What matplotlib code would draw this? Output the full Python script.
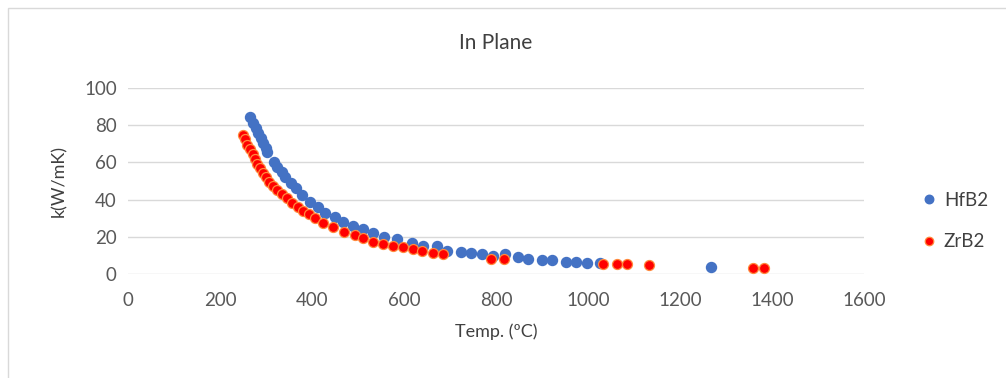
import numpy as np
import matplotlib.pyplot as plt
from matplotlib.patches import Rectangle

hfb2_t = [265, 272, 278, 283, 289, 293, 300, 302, 317, 324, 335, 341, 354, 365,
          378, 396, 413, 428, 450, 467, 489, 511, 533, 557, 585, 617, 641, 672,
          693, 724, 746, 769, 793, 820, 848, 870, 900, 922, 952, 974, 997, 1026,
          1267]
hfb2_k = [84.2, 81.2, 78.5, 75.8, 73.1, 70.4, 67.7, 65.6, 60.2, 57.5, 54.8, 52.2,
          48.9, 46.2, 42.5, 38.7, 36.0, 32.8, 30.6, 28.0, 25.8, 24.2, 22.0, 19.9,
          18.8, 16.7, 15.1, 15.1, 12.4, 11.8, 11.3, 10.8, 9.7, 10.8, 9.1, 8.1,
          7.5, 7.5, 6.5, 6.5, 5.9, 5.9, 3.8]

zrb2_t = [250, 254, 259, 265, 272, 276, 280, 287, 293, 300, 307, 315, 324, 335,
          346, 357, 370, 380, 393, 407, 424, 446, 470, 493, 511, 533, 554, 576,
          598, 620, 639, 663, 685, 789, 817, 1033, 1063, 1085, 1133, 1359, 1383]
zrb2_k = [74.7, 72.6, 69.4, 67.2, 64.5, 61.8, 59.1, 57.0, 54.3, 52.2, 49.5, 47.3,
          45.2, 43.0, 40.9, 38.2, 36.0, 33.9, 32.3, 30.1, 27.4, 25.3, 22.6, 21.0,
          19.4, 17.2, 16.1, 15.1, 14.5, 13.4, 12.4, 11.3, 10.8, 8.1, 8.1, 5.4,
          5.4, 5.4, 4.8, 3.2, 3.2]

plt.rcParams['font.family'] = ['Lato', 'DejaVu Sans']

fig = plt.figure(figsize=(10.06, 3.78), dpi=100)
ax = fig.add_axes([0.1272, 0.2751, 0.7316, 0.4921])

ax.plot(hfb2_t, hfb2_k, 'o', color='#4472C4', markersize=7.2,
        markeredgecolor='#4472C4', label='HfB2', zorder=3)
ax.plot(zrb2_t, zrb2_k, 'o', color='#FF0000', markersize=7.2,
        markeredgecolor='#FF8A3D', markeredgewidth=0.9, label='ZrB2', zorder=3)

ax.set_xlim(0, 1600)
ax.set_ylim(0, 100)
ax.set_xticks(np.arange(0, 1601, 200))
ax.set_yticks(np.arange(0, 101, 20))
ax.grid(axis='y', color='#D9D9D9', linewidth=1)
ax.set_axisbelow(True)
for s in ax.spines.values():
    s.set_visible(False)
ax.tick_params(length=0, labelsize=13.5, labelcolor='#595959', pad=8)
ax.tick_params(axis='x', pad=13)

ax.set_title('In Plane', fontsize=15, color='#404040', pad=28)
ax.set_xlabel('Temp. (ºC)', fontsize=13, color='#404040', labelpad=10)
ax.set_ylabel('k(W/mK)', fontsize=13, color='#404040', labelpad=12)

ax.legend(loc='center left', bbox_to_anchor=(1.05, 0.285), frameon=False,
          fontsize=13.5, handletextpad=0.2, labelspacing=1.3, markerscale=0.85,
          handlelength=1.2, labelcolor='#404040')

fig.patches.append(Rectangle((8 / 1006, -0.1), 1.1, 1.1 - 8 / 378,
                             transform=fig.transFigure, fill=False,
                             edgecolor='#D9D9D9', linewidth=1))

fig.savefig('out.png', dpi=100)
